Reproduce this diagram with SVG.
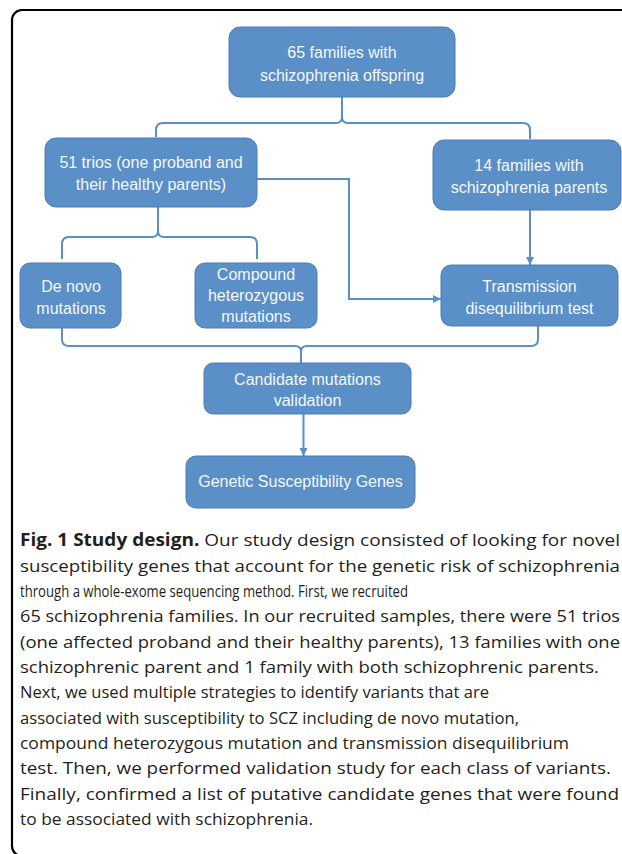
<svg xmlns="http://www.w3.org/2000/svg" width="622" height="854" viewBox="0 0 622 854">
<defs>
<style>
.box{fill:#5a8fc8;stroke:#4a7db6;stroke-width:1}
.bt{font-family:"Liberation Sans",Arial,sans-serif;font-size:16px;fill:#f5f8fc;text-anchor:middle}
.ln{fill:none;stroke:#5a8fc8;stroke-width:2}
.cap{font-family:"Open Sans","Noto Sans",sans-serif;font-size:17px;fill:#231f20}
.b{font-weight:bold}
</style>
<marker id="ah" markerUnits="userSpaceOnUse" markerWidth="10" markerHeight="10" refX="8" refY="4" orient="auto">
<path d="M0,0 L8,4 L0,8 Z" fill="#5a8fc8"/>
</marker>
</defs>
<rect x="12" y="10" width="700" height="846" rx="10" fill="none" stroke="#000" stroke-width="2.2"/>
<g id="connectors">
<path class="ln" d="M342,97 V117 Q342,123 336,123 H163 Q156,123 156,130 V137"/>
<path class="ln" d="M342,117 Q342,123 348,123 H523 Q530,123 530,130 V139"/>
<path class="ln" d="M158,207 V231 Q158,237 152,237 H69 Q62,237 62,244 V259"/>
<path class="ln" d="M158,231 Q158,237 164,237 H250 Q257,237 257,244 V259"/>
<path class="ln" d="M256,179 H349 V299 H441" marker-end="url(#ah)"/>
<path class="ln" d="M530,210 V265" marker-end="url(#ah)"/>
<path class="ln" d="M62,327 V339 Q62,346 69,346 H295 Q301,346 301,352 V363"/>
<path class="ln" d="M538,326 V339 Q538,346 531,346 H307 Q301,346 301,352"/>
<path class="ln" d="M303.5,414 V456" marker-end="url(#ah)"/>
</g>
<g id="n-top">
<rect class="box" x="229" y="27" width="226" height="70" rx="11"/>
<text class="bt" x="342" y="58">65 families with</text>
<text class="bt" x="342" y="81">schizophrenia offspring</text>
</g>
<g id="n-trios">
<rect class="box" x="45" y="138" width="212" height="69" rx="11"/>
<text class="bt" x="151" y="168">51 trios (one proband and</text>
<text class="bt" x="151" y="190">their healthy parents)</text>
</g>
<g id="n-14fam">
<rect class="box" x="433" y="140" width="188" height="70" rx="11"/>
<text class="bt" x="529" y="171">14 families with</text>
<text class="bt" x="529" y="193">schizophrenia parents</text>
</g>
<g id="n-denovo">
<rect class="box" x="20" y="263" width="101" height="65" rx="10"/>
<text class="bt" x="71" y="292">De novo</text>
<text class="bt" x="71" y="314">mutations</text>
</g>
<g id="n-compound">
<rect class="box" x="195" y="263" width="122" height="65" rx="10"/>
<text class="bt" x="256" y="280">Compound</text>
<text class="bt" x="256" y="301">heterozygous</text>
<text class="bt" x="256" y="322">mutations</text>
</g>
<g id="n-tdt">
<rect class="box" x="441" y="265" width="177" height="61" rx="10"/>
<text class="bt" x="529.5" y="292">Transmission</text>
<text class="bt" x="529.5" y="314">disequilibrium test</text>
</g>
<g id="n-candidate">
<rect class="box" x="204" y="363" width="207" height="51" rx="9"/>
<text class="bt" x="307.5" y="385">Candidate mutations</text>
<text class="bt" x="307.5" y="406">validation</text>
</g>
<g id="n-genes">
<rect class="box" x="186" y="456" width="229" height="52" rx="10"/>
<text class="bt" x="300.5" y="487">Genetic Susceptibility Genes</text>
</g>
<g id="caption">
<text class="cap" x="20" y="546" textLength="600" lengthAdjust="spacingAndGlyphs"><tspan class="b">Fig. 1 Study design.</tspan> Our study design consisted of looking for novel</text>
<text class="cap" x="20" y="571.5" textLength="600" lengthAdjust="spacingAndGlyphs">susceptibility genes that account for the genetic risk of schizophrenia</text>
<text class="cap" x="20" y="597" textLength="388" lengthAdjust="spacingAndGlyphs">through a whole-exome sequencing method. First, we recruited</text>
<text class="cap" x="20" y="622" textLength="600" lengthAdjust="spacingAndGlyphs">65 schizophrenia families. In our recruited samples, there were 51 trios</text>
<text class="cap" x="20" y="647.5" textLength="600" lengthAdjust="spacingAndGlyphs">(one affected proband and their healthy parents), 13 families with one</text>
<text class="cap" x="20" y="673" textLength="579" lengthAdjust="spacingAndGlyphs">schizophrenic parent and 1 family with both schizophrenic parents.</text>
<text class="cap" x="20" y="698" textLength="469" lengthAdjust="spacingAndGlyphs">Next, we used multiple strategies to identify variants that are</text>
<text class="cap" x="20" y="723.5" textLength="499" lengthAdjust="spacingAndGlyphs">associated with susceptibility to SCZ including de novo mutation,</text>
<text class="cap" x="20" y="749" textLength="549" lengthAdjust="spacingAndGlyphs">compound heterozygous mutation and transmission disequilibrium</text>
<text class="cap" x="20" y="774" textLength="591" lengthAdjust="spacingAndGlyphs">test. Then, we performed validation study for each class of variants.</text>
<text class="cap" x="20" y="799.5" textLength="599" lengthAdjust="spacingAndGlyphs">Finally, confirmed a list of putative candidate genes that were found</text>
<text class="cap" x="20" y="825" textLength="293" lengthAdjust="spacingAndGlyphs">to be associated with schizophrenia.</text>
</g>
</svg>
